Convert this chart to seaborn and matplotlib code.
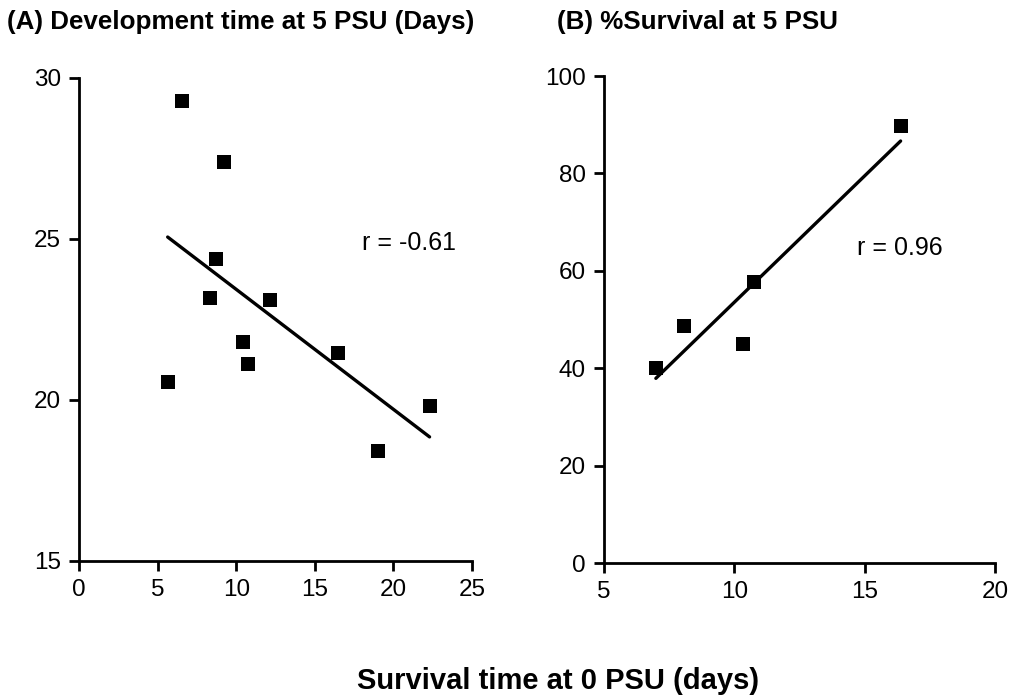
import numpy as np
import pandas as pd
import matplotlib
matplotlib.use("Agg")
import matplotlib.pyplot as plt
import seaborn as sns

# Panel A data
a_x = [6.57, 9.2, 8.7, 8.33, 12.15, 10.45, 10.77, 5.64, 16.45, 22.3, 19.04]
a_y = [29.3, 27.4, 24.37, 23.16, 23.1, 21.8, 21.12, 20.57, 21.47, 19.8, 18.4]
# Panel B data
b_x = [6.99, 8.08, 10.35, 10.77, 16.38]
b_y = [40.1, 48.6, 44.9, 57.7, 89.75]

title_a = "(A) Development time at 5 PSU (Days)"
title_b = "(B) %Survival at 5 PSU"
r_a = "r = -0.61"
r_b = "r = 0.96"
xlabel = "Survival time at 0 PSU (days)"
a_xticks = [0, 5, 10, 15, 20, 25]
a_yticks = [15, 20, 25, 30]
b_xticks = [5, 10, 15, 20]
b_yticks = [0, 20, 40, 60, 80, 100]

sns.set_style("ticks")
plt.rcParams['font.family'] = ['Liberation Sans', 'DejaVu Sans']
plt.rcParams['text.color'] = 'black'
plt.rcParams['xtick.color'] = 'black'
plt.rcParams['ytick.color'] = 'black'
plt.rcParams['axes.edgecolor'] = 'black'

dfa = pd.DataFrame({"x": a_x, "y": a_y})
dfb = pd.DataFrame({"x": b_x, "y": b_y})

fig = plt.figure(figsize=(10.09, 6.98), dpi=100)
axA = fig.add_axes([0.0783, 0.1963, 0.3895, 0.692])
axB = fig.add_axes([0.5986, 0.1934, 0.3875, 0.6977])

common_scatter = dict(s=105, color="black", edgecolor="black", linewidths=0, alpha=1)
common_line = dict(color="black", lw=2.4)

sns.regplot(data=dfa, x="x", y="y", ax=axA, ci=None, marker="s",
            scatter_kws=common_scatter, line_kws=common_line)
sns.regplot(data=dfb, x="x", y="y", ax=axB, ci=None, marker="s",
            scatter_kws=common_scatter, line_kws=common_line)

axA.set_xlim(0, 25)
axA.set_ylim(15, 30)
axA.set_xticks(a_xticks)
axA.set_yticks(a_yticks)
axB.set_xlim(5, 20)
axB.set_ylim(0, 100)
axB.set_xticks(b_xticks)
axB.set_yticks(b_yticks)

for ax in (axA, axB):
    ax.set_xlabel("")
    ax.set_ylabel("")
    sns.despine(ax=ax)
    for sp in ("left", "bottom"):
        ax.spines[sp].set_linewidth(2)
        ax.spines[sp].set_color("black")
    ax.tick_params(axis="both", direction="out", length=7, width=2, color="black",
                   labelsize=17.5, labelcolor="black", pad=6)
    for c in ax.collections:
        c.set_clip_on(False)
    for l in ax.lines:
        l.set_clip_on(False)

fig.text(7 / 1009, 1 - 22 / 698, title_a, fontsize=18.7, fontweight="bold", ha="left", va="center")
fig.text(557 / 1009, 1 - 22 / 698, title_b, fontsize=18.7, fontweight="bold", ha="left", va="center")
axA.text(18.0, 24.88, r_a, fontsize=18, ha="left", va="center")
axB.text(14.7, 64.7, r_b, fontsize=18, ha="left", va="center")
fig.text(357 / 1009, 1 - 689 / 698, xlabel, fontsize=21, fontweight="bold", ha="left", va="baseline")

fig.savefig("out.png", dpi=100, facecolor="white")
